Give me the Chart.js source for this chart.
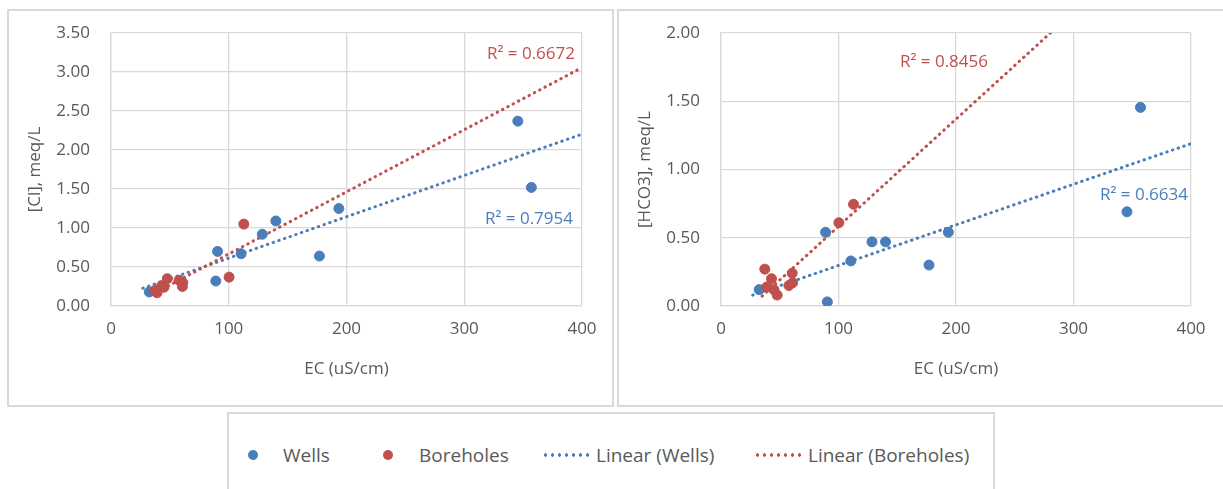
<!DOCTYPE html>
<html>
<head>
<meta charset="utf-8">
<script src="https://cdn.jsdelivr.net/npm/chart.js@4/dist/chart.umd.min.js"></script>
<style>
  html, body { margin:0; padding:0; background:#fff; width:1223px; height:489px; overflow:hidden; }
  body { position:relative; font-family:"Open Sans", sans-serif; }
  .panel { position:absolute; }
  .panel canvas { position:absolute; left:0; top:0; }
  .frame { position:absolute; left:0; top:0; right:0; bottom:0; border:2px solid #d9d9d9; box-sizing:border-box; pointer-events:none; }
  #legend { position:absolute; left:227px; top:412px; width:768px; height:80px; border:2px solid #d9d9d9; box-sizing:border-box; }
  .lg { position:absolute; font-size:19px; color:#595959; line-height:20px; top:445px; white-space:nowrap; }
  .dot { position:absolute; width:10px; height:10px; border-radius:50%; top:450px; }
  .dline { position:absolute; height:4px; top:453px; width:49px; background-size:7px 4px; background-repeat:repeat-x; }
</style>
</head>
<body>
<div class="panel" style="left:7px;top:9px;width:607px;height:398px;">
  <canvas id="c1" width="607" height="398"></canvas>
  <div class="frame"></div>
</div>
<div class="panel" style="left:617px;top:9px;width:610px;height:398px;">
  <canvas id="c2" width="606" height="398"></canvas>
  <div class="frame"></div>
</div>
<div id="legend"></div>
<div class="dot" style="left:248px;background:#4a7ebb;"></div>
<div class="lg" style="left:283px;">Wells</div>
<div class="dot" style="left:383px;background:#c0504d;"></div>
<div class="lg" style="left:419px;">Boreholes</div>
<div class="dline" style="left:542px;background-image:radial-gradient(circle, #4a7ebb 1.5px, transparent 1.9px);"></div>
<div class="lg" style="left:596px;">Linear (Wells)</div>
<div class="dline" style="left:754px;background-image:radial-gradient(circle, #c0504d 1.5px, transparent 1.9px);"></div>
<div class="lg" style="left:808px;">Linear (Boreholes)</div>

<script>
// ---------------- DATA ----------------
const seriesNames = ['Wells', 'Boreholes', 'Linear (Wells)', 'Linear (Boreholes)'];
const wellsEC      = [32.5, 89, 90.5, 110.5, 128.5, 140, 177, 193.5, 345.5, 357];
const wellsCl      = [0.18, 0.32, 0.70, 0.67, 0.92, 1.09, 0.64, 1.25, 2.37, 1.52];
const wellsHCO3    = [0.12, 0.54, 0.03, 0.33, 0.47, 0.47, 0.30, 0.54, 0.69, 1.455];
const boreholesEC   = [37.3, 39.1, 43, 45, 47.8, 57.8, 60.6, 61, 100.3, 112.8];
const boreholesCl   = [0.20, 0.17, 0.26, 0.24, 0.35, 0.33, 0.25, 0.30, 0.37, 1.05];
const boreholesHCO3 = [0.27, 0.14, 0.20, 0.12, 0.08, 0.15, 0.24, 0.17, 0.61, 0.745];
const wellsTrendRange     = [27, 400];
const boreholesTrendRange = [35, 400];
const xTicks    = [0, 100, 200, 300, 400];
const clTicks   = [0, 0.5, 1, 1.5, 2, 2.5, 3, 3.5];
const hco3Ticks = [0, 0.5, 1, 1.5, 2];
const r2Cl   = ['R² = 0.7954', 'R² = 0.6672'];   // wells, boreholes
const r2HCO3 = ['R² = 0.6634', 'R² = 0.8456'];
const xTitle = 'EC (uS/cm)';
const yTitleCl = '[Cl], meq/L';
const yTitleHCO3 = '[HCO3], meq/L';

// ---------------- HELPERS ----------------
const BLUE = '#4a7ebb', RED = '#c0504d', TXT = '#595959', GRID = '#d9d9d9';
const FONT = '"Open Sans", sans-serif';

function pts(xs, ys) { return xs.map((x, i) => ({x, y: ys[i]})); }
function fit(xs, ys, range) {
  const n = xs.length;
  const mx = xs.reduce((a, b) => a + b, 0) / n;
  const my = ys.reduce((a, b) => a + b, 0) / n;
  let sxy = 0, sxx = 0;
  for (let i = 0; i < n; i++) { sxy += (xs[i] - mx) * (ys[i] - my); sxx += (xs[i] - mx) ** 2; }
  const b = sxy / sxx, a = my - b * mx;
  return range.map(x => ({x, y: a + b * x}));
}

const r2Plugin = {
  id: 'r2labels',
  afterDatasetsDraw(chart, args, opts) {
    const {ctx, chartArea} = chart;
    ctx.save();
    ctx.font = '17px ' + FONT;
    ctx.textAlign = 'right';
    ctx.textBaseline = 'middle';
    opts.labels.forEach(l => {
      ctx.fillStyle = l.color;
      const x = l.fromRight ? chartArea.right - l.dx : chartArea.left + l.dx;
      ctx.fillText(l.text, x, chartArea.top + l.dy);
    });
    ctx.restore();
  }
};

function makeChart(id, yVals1, yVals2, yTicks, yMax, yTitle, labels) {
  const tickFont = {family: FONT, size: 17};
  return new Chart(document.getElementById(id), {
    type: 'scatter',
    data: {
      datasets: [
        {label: seriesNames[0], data: pts(wellsEC, yVals1), backgroundColor: BLUE, borderColor: BLUE, pointRadius: 5, pointHoverRadius: 5, order: 1},
        {label: seriesNames[1], data: pts(boreholesEC, yVals2), backgroundColor: RED, borderColor: RED, pointRadius: 5, pointHoverRadius: 5, order: 0},
        {type: 'line', label: seriesNames[2], data: fit(wellsEC, yVals1, wellsTrendRange), borderColor: BLUE, borderWidth: 3, borderDash: [0.5, 5.5], borderCapStyle: 'round', pointRadius: 0, fill: false, order: 3},
        {type: 'line', label: seriesNames[3], data: fit(boreholesEC, yVals2, boreholesTrendRange), borderColor: RED, borderWidth: 3, borderDash: [0.5, 5.5], borderCapStyle: 'round', pointRadius: 0, fill: false, order: 2}
      ]
    },
    options: {
      responsive: false,
      animation: false,
      events: [],
      layout: {padding: {top: 24, right: 32, left: 0, bottom: 0}},
      plugins: {
        legend: {display: false},
        tooltip: {enabled: false},
        r2labels: {labels}
      },
      scales: {
        x: {
          type: 'linear', min: 0, max: 400,
          afterBuildTicks: s => { s.ticks = xTicks.map(v => ({value: v})); },
          afterFit: s => { s.height = 101; },
          grid: {color: GRID, lineWidth: 1.3, drawTicks: true, tickLength: 11, tickColor: 'rgba(0,0,0,0)'},
          border: {color: GRID, width: 1.3},
          ticks: {color: TXT, font: tickFont, padding: 2, maxRotation: 0, callback: v => String(v)},
          title: {display: true, text: xTitle, color: TXT, font: tickFont, padding: {top: 0, bottom: 28}}
        },
        y: {
          type: 'linear', min: 0, max: yMax,
          afterBuildTicks: s => { s.ticks = yTicks.map(v => ({value: v})); },
          afterFit: s => { s.width = 104; },
          grid: {color: GRID, lineWidth: 1.3, drawTicks: true, tickLength: 19, tickColor: 'rgba(0,0,0,0)'},
          border: {color: GRID, width: 1.3},
          ticks: {color: TXT, font: tickFont, padding: 2, callback: v => Number(v).toFixed(2)},
          title: {display: true, text: yTitle, color: TXT, font: tickFont, padding: {top: 18, bottom: 0}}
        }
      }
    },
    plugins: [r2Plugin]
  });
}

makeChart('c1', wellsCl, boreholesCl, clTicks, 3.5, yTitleCl, [
  {text: r2Cl[1], color: RED, fromRight: true, dx: 7, dy: 21},
  {text: r2Cl[0], color: BLUE, fromRight: true, dx: 9, dy: 186}
]);
makeChart('c2', wellsHCO3, boreholesHCO3, hco3Ticks, 2, yTitleHCO3, [
  {text: r2HCO3[1], color: RED, fromRight: false, dx: 267, dy: 29},
  {text: r2HCO3[0], color: BLUE, fromRight: true, dx: 3, dy: 162}
]);
</script>
</body>
</html>
